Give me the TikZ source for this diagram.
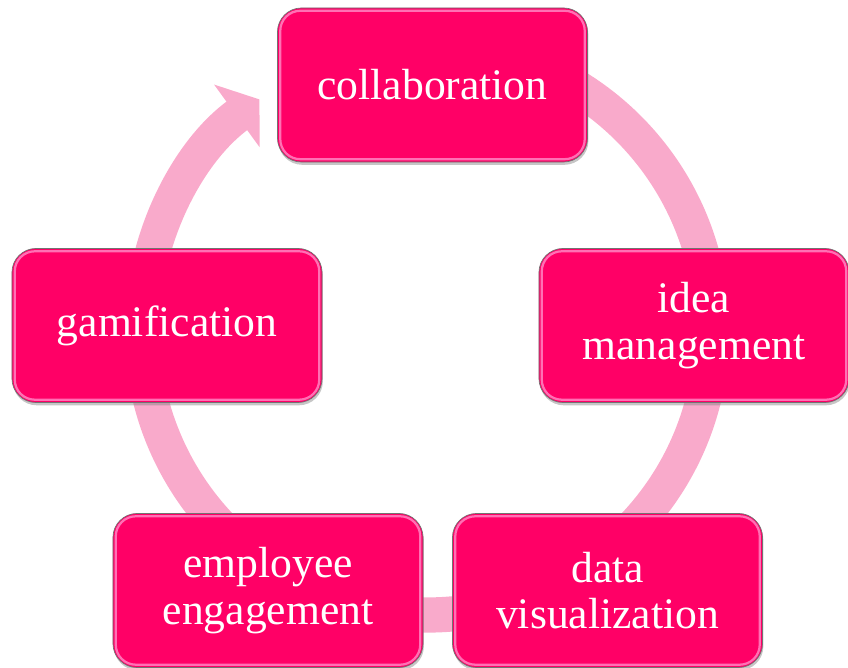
\documentclass[tikz,border=0pt]{standalone}
\usepackage{fontspec}
\setmainfont{Liberation Serif}
\usetikzlibrary{arrows.meta,shadows}
\definecolor{rosa}{HTML}{FF0066}
\definecolor{anillo}{HTML}{F9AACB}
\definecolor{brillo}{HTML}{FF70B4}

\begin{document}
\begin{tikzpicture}[x=0.025cm, y=0.025cm,
	caja/.style={rectangle, rounded corners=0.6cm, fill=rosa, draw=black!55, line width=0.5pt,
		minimum width=7.75cm, minimum height=3.85cm, inner sep=0pt, align=center,
		text=white, font=\fontsize{31}{33}\selectfont,
		drop shadow={shadow xshift=0.6pt, shadow yshift=-2pt, opacity=0.45},
		path picture={\draw[brillo, line width=1.6pt, rounded corners=0.5cm]
			([shift={(2pt,2pt)}]path picture bounding box.south west) rectangle
			([shift={(-2pt,-2pt)}]path picture bounding box.north east);}},
	flecha/.style={draw=anillo, line width=0.88cm, -{Triangle[length=0.7cm, width=1.9cm]}}]
	\useasboundingbox (0,0) rectangle (848,668);
	% Anillo con la flecha
		\coordinate (centro) at (427,338);
		\draw[flecha] (centro) ++(85:285) arc[start angle=85, end angle=-234, radius=285];

	% Cajas
		\node[caja] (colaboracion) at (432.5,583) {collaboration};
		\node[caja] (ideas) at (694,342.5) {idea\\management};
		\node[caja] (datos) at (607.5,77.5) {data\\visualization};
		\node[caja] (empleados) at (268,77.5) {employee\\engagement};
		\node[caja] (gamificacion) at (167,342.5) {gamification};
\end{tikzpicture}
\end{document}
